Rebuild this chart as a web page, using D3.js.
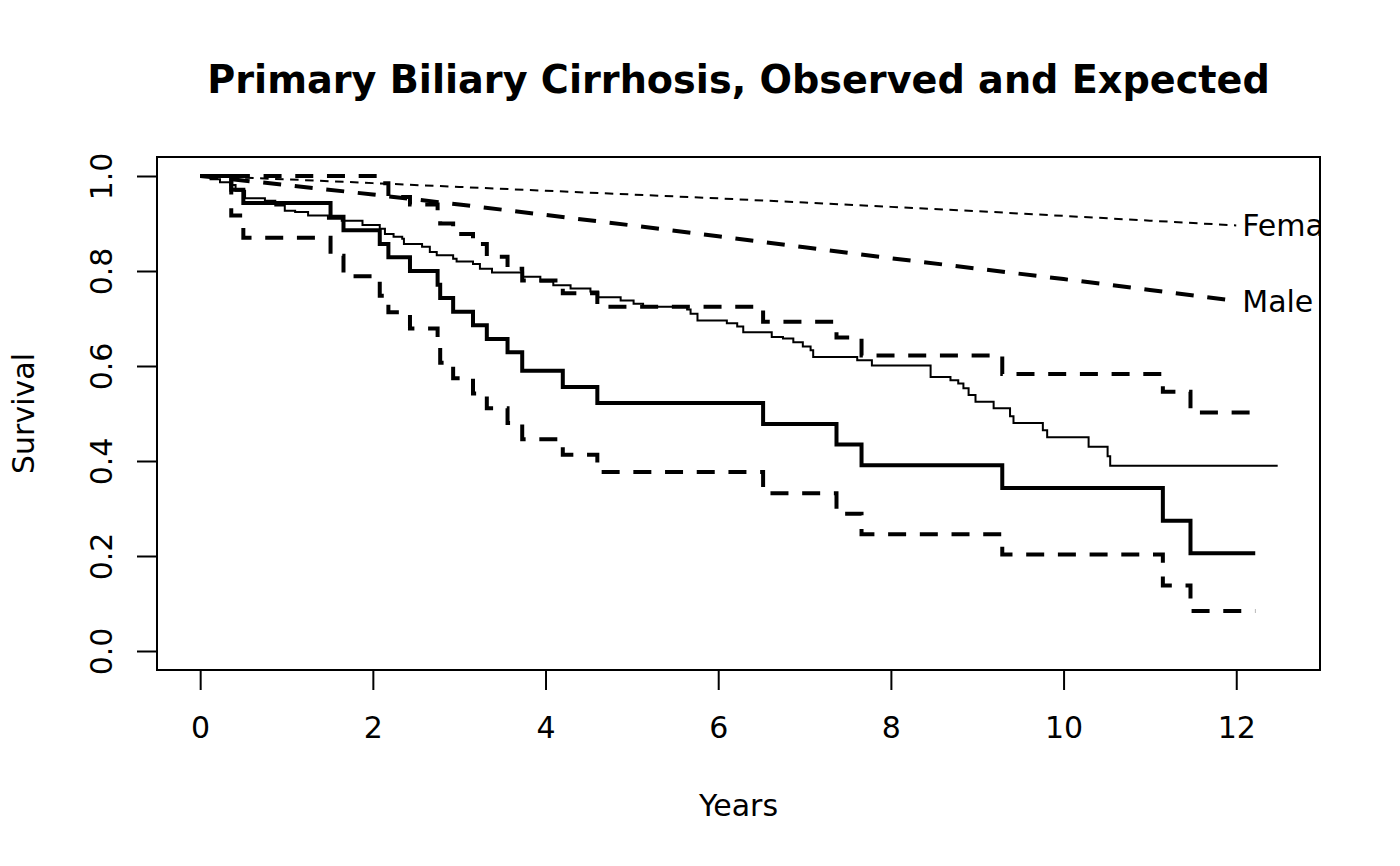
<!DOCTYPE html>
<html>
<head>
<meta charset="utf-8">
<script src="https://cdn.jsdelivr.net/npm/d3@7"></script>
<style>
  body { margin: 0; background: #fff; }
  svg { font-family: "DejaVu Sans", sans-serif; }
</style>
</head>
<body>
<svg id="chart"></svg>
<script>
// tick marks
var xTicks = [0, 2, 4, 6, 8, 10, 12];
var yTicks = [0, 0.2, 0.4, 0.6, 0.8, 1.0];
var yTickLabels = ["0.0", "0.2", "0.4", "0.6", "0.8", "1.0"];

// observed Kaplan-Meier, whole cohort (thin solid)
var allTimes = [0, 0.12, 0.23, 0.35, 0.41, 0.52, 0.75, 0.87, 0.98, 1.10, 1.25, 1.48, 1.64, 1.88,
  2.08, 2.14, 2.24, 2.34, 2.36, 2.57, 2.66, 2.74, 2.93, 2.97, 3.16, 3.24, 3.38, 3.74, 3.94,
  4.09, 4.29, 4.52, 4.61, 4.87, 5.02, 5.13, 5.64, 5.68, 5.76, 6.10, 6.22, 6.29, 6.62, 6.75,
  6.87, 6.98, 7.07, 7.10, 7.61, 7.78, 8.46, 8.69, 8.78, 8.84, 8.90, 8.98, 9.19, 9.38, 9.42,
  9.76, 9.81, 10.29, 10.51, 10.54, 12.48];
var allSurv = [1.0, 0.993, 0.987, 0.981, 0.969, 0.953, 0.948, 0.938, 0.927, 0.924, 0.917, 0.910, 0.906, 0.897,
  0.889, 0.878, 0.872, 0.868, 0.857, 0.851, 0.840, 0.833, 0.826, 0.820, 0.815, 0.805, 0.797, 0.788, 0.778,
  0.770, 0.763, 0.757, 0.745, 0.738, 0.731, 0.725, 0.719, 0.710, 0.696, 0.690, 0.683, 0.671, 0.661, 0.658,
  0.650, 0.641, 0.633, 0.619, 0.612, 0.601, 0.577, 0.570, 0.563, 0.553, 0.539, 0.525, 0.511, 0.494, 0.480,
  0.465, 0.450, 0.430, 0.410, 0.390, 0.390];

// observed Kaplan-Meier, subgroup (thick solid) with 95% limits (thick dashed)
var subTimes = [0, 0.36, 0.50, 1.51, 1.66, 2.08, 2.18, 2.43, 2.75, 2.78, 2.93, 3.16, 3.32, 3.56, 3.73,
  4.20, 4.60, 6.52, 7.37, 7.66, 9.29, 11.15, 11.47, 12.22];
var subSurv = [1.0, 0.971, 0.943, 0.914, 0.886, 0.857, 0.829, 0.800, 0.771, 0.743, 0.714, 0.686, 0.657, 0.629, 0.590,
  0.556, 0.522, 0.478, 0.435, 0.391, 0.343, 0.274, 0.206, 0.206];
var subUpper = [1.0, 1.0, 1.0, 1.0, 1.0, 0.985, 0.956, 0.940, 0.920, 0.900, 0.878, 0.857, 0.830, 0.805, 0.780,
  0.753, 0.725, 0.693, 0.660, 0.622, 0.583, 0.546, 0.502, 0.502];
var subLower = [1.0, 0.917, 0.870, 0.832, 0.789, 0.748, 0.713, 0.679, 0.645, 0.607, 0.574, 0.542, 0.511, 0.480, 0.446,
  0.413, 0.377, 0.332, 0.289, 0.246, 0.203, 0.138, 0.084, 0.084];

// expected survival
var expTimes = [0, 1, 2, 3, 4, 5, 6, 7, 8, 9, 10, 11, 12];
var expFemale = [1.0, 0.993, 0.985, 0.977, 0.969, 0.961, 0.953, 0.944, 0.935, 0.926, 0.916, 0.906, 0.896];
var expMale = [1.0, 0.981, 0.961, 0.940, 0.918, 0.896, 0.873, 0.850, 0.827, 0.805, 0.783, 0.760, 0.737];
var expLabels = ["Female", "Male"];

var width = 1400, height = 866;
var plot = { left: 157, right: 1320, top: 157, bottom: 670 };

var svg = d3.select("#chart").attr("width", width).attr("height", height);

var x = d3.scaleLinear().domain([-0.5, 12.97]).range([plot.left, plot.right]);
var y = d3.scaleLinear().domain([-0.04, 1.04]).range([plot.bottom, plot.top]);

svg.append("defs").append("clipPath").attr("id", "plotclip")
  .append("rect")
    .attr("x", plot.left).attr("y", plot.top)
    .attr("width", plot.right - plot.left).attr("height", plot.bottom - plot.top);

var stepLine = d3.line().curve(d3.curveStepAfter).x(d => x(d[0])).y(d => y(d[1]));
var smoothLine = d3.line().x(d => x(d[0])).y(d => y(d[1]));

var layer = svg.append("g").attr("clip-path", "url(#plotclip)");

function addPath(line, ts, vs, w, dash) {
  layer.append("path")
    .attr("d", line(ts.map((t, i) => [t, vs[i]])))
    .attr("fill", "none")
    .attr("stroke", "#000")
    .attr("stroke-width", w)
    .attr("stroke-dasharray", dash);
}

addPath(stepLine, allTimes, allSurv, 2, null);
addPath(stepLine, subTimes, subSurv, 4, null);
addPath(stepLine, subTimes, subUpper, 4, "18,13.7");
addPath(stepLine, subTimes, subLower, 4, "18,13.7");
addPath(smoothLine, expTimes, expFemale, 2, "8.5,6.5");
addPath(smoothLine, expTimes, expMale, 4, "18,13.7");

var lastT = expTimes[expTimes.length - 1];
[expFemale, expMale].forEach((vals, i) => {
  layer.append("text")
    .attr("x", x(lastT) + 6)
    .attr("y", y(vals[vals.length - 1]) + 11)
    .style("font-size", "30px")
    .text(expLabels[i]);
});

// box
svg.append("rect")
  .attr("x", plot.left).attr("y", plot.top)
  .attr("width", plot.right - plot.left).attr("height", plot.bottom - plot.top)
  .attr("fill", "none").attr("stroke", "#000").attr("stroke-width", 2);

// x axis
var xAxis = svg.append("g").attr("transform", `translate(0,${plot.bottom})`)
  .call(d3.axisBottom(x).tickValues(xTicks).tickSize(20).tickPadding(0).tickFormat(d3.format("d")));
xAxis.select(".domain").attr("d", `M${x(xTicks[0])},0H${x(xTicks[xTicks.length - 1])}`)
  .attr("stroke-width", 2);
xAxis.selectAll(".tick line").attr("stroke-width", 2);
xAxis.selectAll(".tick text")
  .attr("y", 68).attr("dy", null)
  .style("font-size", "30px").style("font-family", "DejaVu Sans");

// y axis
var yAxis = svg.append("g").attr("transform", `translate(${plot.left},0)`)
  .call(d3.axisLeft(y).tickValues(yTicks).tickSize(20).tickFormat((d, i) => yTickLabels[i]));
yAxis.select(".domain").attr("d", `M0,${y(yTicks[0])}V${y(yTicks[yTicks.length - 1])}`)
  .attr("stroke-width", 2);
yAxis.selectAll(".tick line").attr("stroke-width", 2);
yAxis.selectAll(".tick text")
  .attr("x", null).attr("dy", null)
  .attr("text-anchor", "middle")
  .attr("transform", "translate(-45,0) rotate(-90)")
  .style("font-size", "30px").style("font-family", "DejaVu Sans");

// titles
svg.append("text")
  .attr("x", (plot.left + plot.right) / 2).attr("y", 93)
  .attr("text-anchor", "middle")
  .style("font-size", "38.2px").style("font-weight", "bold")
  .text("Primary Biliary Cirrhosis, Observed and Expected");

svg.append("text")
  .attr("x", (plot.left + plot.right) / 2).attr("y", 816)
  .attr("text-anchor", "middle")
  .style("font-size", "30px")
  .text("Years");

svg.append("text")
  .attr("transform", `translate(34,${(plot.top + plot.bottom) / 2}) rotate(-90)`)
  .attr("text-anchor", "middle")
  .style("font-size", "30px")
  .text("Survival");
</script>
</body>
</html>
